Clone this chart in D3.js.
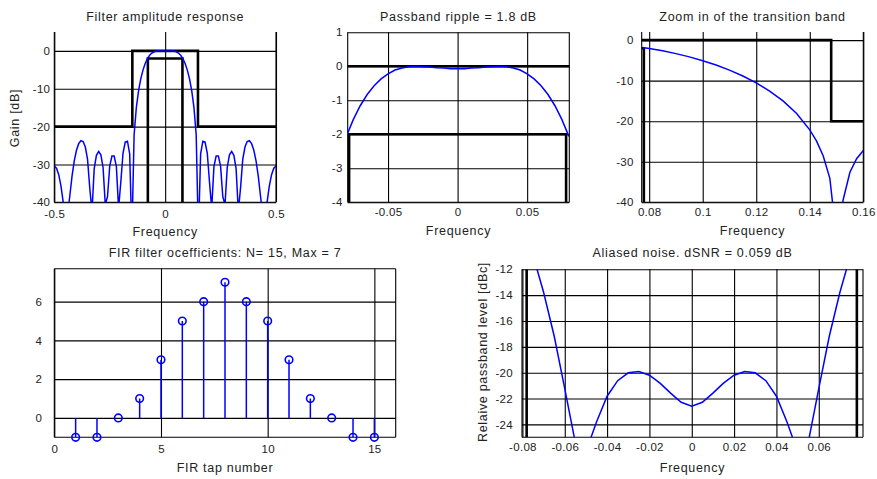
<!DOCTYPE html>
<html>
<head>
<meta charset="utf-8">
<script src="https://cdn.jsdelivr.net/npm/d3@7"></script>
<style>
    body { margin: 0; background: #ffffff; }
    text { font-family: "Liberation Sans", Arial, sans-serif; fill: #222; }
</style>
</head>
<body>
<div id="chart"></div>
<script>
// Datos

// FIR taps (stem plot)
const FIR_TAPS = [1, 2, 3, 4, 5, 6, 7, 8, 9, 10, 11, 12, 13, 14, 15];
const FIR_COEFS = [-1, -1, 0, 1, 3, 5, 6, 7, 6, 5, 3, 1, 0, -1, -1];

// amplitude response, full band
const RESP_FREQ = [-0.5, -0.49, -0.48, -0.47, -0.46, -0.45, -0.44, -0.43, -0.42, -0.41,
    -0.4, -0.39, -0.38, -0.37, -0.36, -0.35, -0.34, -0.33, -0.32, -0.31,
    -0.3, -0.29, -0.28, -0.27, -0.26, -0.25, -0.24, -0.23, -0.22, -0.21,
    -0.2, -0.19, -0.18, -0.17, -0.16, -0.15, -0.14, -0.13, -0.12, -0.11,
    -0.1, -0.09, -0.08, -0.07, -0.06, -0.05, -0.04, -0.03, -0.02, -0.01,
    0, 0.01, 0.02, 0.03, 0.04, 0.05, 0.06, 0.07, 0.08, 0.09,
    0.1, 0.11, 0.12, 0.13, 0.14, 0.15, 0.16, 0.17, 0.18, 0.19,
    0.2, 0.21, 0.22, 0.23, 0.24, 0.25, 0.26, 0.27, 0.28, 0.29,
    0.3, 0.31, 0.32, 0.33, 0.34, 0.35, 0.36, 0.37, 0.38, 0.39,
    0.4, 0.41, 0.42, 0.43, 0.44, 0.45, 0.46, 0.47, 0.48, 0.49, 0.5];
const RESP_GAIN = [-30.44, -31.0, -32.69, -35.68, -39.89, -44.0, -43.4, -38.27, -33.09, -29.07,
    -26.26, -24.5, -23.72, -23.95, -25.4, -28.65, -36.27, -42.4, -31.11, -27.57,
    -26.57, -27.47, -30.8, -40.59, -38.53, -30.44, -27.78, -27.76, -30.59, -41.6,
    -34.62, -26.99, -24.09, -23.85, -27.21, -48.9, -22.14, -15.0, -10.55, -7.4,
    -5.07, -3.33, -2.06, -1.16, -0.57, -0.22, -0.05, 0.0, -0.02, -0.05,
    -0.07, -0.05, -0.02, 0.0, -0.05, -0.22, -0.57, -1.16, -2.06, -3.33,
    -5.07, -7.4, -10.55, -15.0, -22.14, -48.9, -27.21, -23.85, -24.09, -26.99,
    -34.62, -41.6, -30.59, -27.76, -27.78, -30.44, -38.53, -40.59, -30.8, -27.47,
    -26.57, -27.57, -31.11, -42.4, -36.27, -28.65, -25.4, -23.95, -23.72, -24.5,
    -26.26, -29.07, -33.09, -38.27, -43.4, -44.0, -39.89, -35.68, -32.69, -31.0, -30.44];

// passband zoom
const PASS_FREQ = [-0.08, -0.075, -0.07, -0.065, -0.06, -0.055, -0.05, -0.045, -0.04,
    -0.035, -0.03, -0.025, -0.02, -0.015, -0.01, -0.005, 0,
    0.005, 0.01, 0.015, 0.02, 0.025, 0.03, 0.035, 0.04,
    0.045, 0.05, 0.055, 0.06, 0.065, 0.07, 0.075, 0.08];
const PASS_GAIN = [-2.06, -1.57, -1.16, -0.83, -0.57, -0.37, -0.22, -0.11, -0.05,
    -0.01, 0.0, -0.01, -0.02, -0.04, -0.05, -0.07, -0.07,
    -0.07, -0.05, -0.04, -0.02, -0.01, 0.0, -0.01, -0.05,
    -0.11, -0.22, -0.37, -0.57, -0.83, -1.16, -1.57, -2.06];

// transition band zoom
const TRANS_FREQ = [0.0775, 0.08, 0.085, 0.09, 0.095, 0.1, 0.105, 0.11, 0.115, 0.12, 0.125,
    0.13, 0.135, 0.14, 0.1425, 0.145, 0.1475, 0.15, 0.1525, 0.155, 0.1575, 0.16];
const TRANS_GAIN = [-1.8, -2.06, -2.64, -3.33, -4.13, -5.07, -6.15, -7.4, -8.85, -10.55, -12.57,
    -15.0, -18.05, -22.14, -24.87, -28.52, -34.1, -48.9, -39.3, -32.59, -29.26, -27.21];

// aliased noise
const ALIAS_FREQ = [-0.08, -0.075, -0.07, -0.065, -0.06, -0.055, -0.05, -0.045, -0.04,
    -0.035, -0.03, -0.025, -0.02, -0.015, -0.01, -0.005, 0,
    0.005, 0.01, 0.015, 0.02, 0.025, 0.03, 0.035, 0.04,
    0.045, 0.05, 0.055, 0.06, 0.065, 0.07, 0.075, 0.08];
const ALIAS_LEVEL = [-8.39, -10.91, -13.78, -17.16, -21.24, -25.42, -26.12, -23.81, -21.82,
    -20.62, -20.01, -19.91, -20.2, -20.81, -21.58, -22.29, -22.59,
    -22.29, -21.58, -20.81, -20.2, -19.91, -20.01, -20.62, -21.82,
    -23.81, -26.12, -25.42, -21.24, -17.16, -13.78, -10.91, -8.39];

// mascara de especificacion
const MASK_OUTER_FREQ = [-0.5, -0.148, -0.148, 0.148, 0.148, 0.5];
const MASK_OUTER_GAIN = [-20, -20, 0, 0, -20, -20];
const MASK_INNER_FREQ = [-0.078, -0.078, 0.078, 0.078];
const MASK_INNER_GAIN = [-40, -2, -2, -40];
const ALIAS_EDGES = [-0.078, 0.078];

// ticks
const TICKS_RESP_X = [-0.5, 0, 0.5];
const TICKS_RESP_Y = [0, -10, -20, -30, -40];
const TICKS_PASS_X = [-0.05, 0, 0.05];
const TICKS_PASS_Y = [1, 0, -1, -2, -3, -4];
const TICKS_TRANS_X = [0.08, 0.1, 0.12, 0.14, 0.16];
const TICKS_TRANS_Y = [0, -10, -20, -30, -40];
const TICKS_FIR_X = [0, 5, 10, 15];
const TICKS_FIR_Y = [0, 2, 4, 6];
const TICKS_ALIAS_X = [-0.08, -0.06, -0.04, -0.02, 0, 0.02, 0.04, 0.06];
const TICKS_ALIAS_Y = [-12, -14, -16, -18, -20, -22, -24];

const width = 877;
const height = 479;
const BLUE = "#0000ff";

const svg = d3.select("#chart")
    .append("svg")
    .attr("width", width)
    .attr("height", height);

svg.append("rect").attr("width", width).attr("height", height).attr("fill", "#fff");

// arma un panel con grilla y ejes, devuelve escalas y grupo recortado
function makePanel(cfg) {
    const x = d3.scaleLinear().domain(cfg.xDomain).range([cfg.left, cfg.right]);
    const y = d3.scaleLinear().domain(cfg.yDomain).range([cfg.bottom, cfg.top]);
    const h = cfg.bottom - cfg.top;
    const w = cfg.right - cfg.left;

    const ejeX = svg.append("g")
        .attr("transform", `translate(0,${cfg.bottom})`)
        .call(d3.axisBottom(x)
            .tickValues(cfg.xTicks)
            .tickFormat(d => String(d))
            .tickSizeInner(-h)
            .tickSizeOuter(0)
            .tickPadding(cfg.xPad));
    ejeX.select(".domain").remove();

    const ejeY = svg.append("g")
        .attr("transform", `translate(${cfg.left},0)`)
        .call(d3.axisLeft(y)
            .tickValues(cfg.yTicks)
            .tickFormat(d => String(d))
            .tickSizeInner(-w)
            .tickSizeOuter(0)
            .tickPadding(cfg.yPad));
    ejeY.select(".domain").remove();

    svg.selectAll(".tick line").attr("stroke", "#000").attr("stroke-width", 1.1);
    svg.selectAll(".tick text")
        .style("font-family", '"Liberation Sans", Arial, sans-serif')
        .style("font-size", "11.5px")
        .style("letter-spacing", "0.3px")
        .attr("fill", "#222");

    // bordes
    const borde = svg.append("g").attr("stroke", "#000").attr("stroke-width", 1.1);
    borde.append("line").attr("x1", cfg.left).attr("x2", cfg.left).attr("y1", cfg.top).attr("y2", cfg.bottom);
    borde.append("line").attr("x1", cfg.right).attr("x2", cfg.right).attr("y1", cfg.top).attr("y2", cfg.bottom);
    borde.append("line").attr("x1", cfg.left).attr("x2", cfg.right).attr("y1", cfg.bottom).attr("y2", cfg.bottom);
    if (cfg.boxTop) {
        borde.append("line").attr("x1", cfg.left).attr("x2", cfg.right).attr("y1", cfg.top).attr("y2", cfg.top);
    }

    const clipId = "clip-" + cfg.id;
    svg.append("clipPath").attr("id", clipId)
        .append("rect")
        .attr("x", cfg.left).attr("y", cfg.top)
        .attr("width", w).attr("height", h);
    const plot = svg.append("g").attr("clip-path", `url(#${clipId})`);

    // titulo y etiquetas
    svg.append("text")
        .attr("x", (cfg.left + cfg.right) / 2 + (cfg.titleDx || 0))
        .attr("y", cfg.titleY)
        .attr("text-anchor", "middle")
        .style("font-size", "12.5px")
        .style("letter-spacing", "0.7px")
        .text(cfg.title);

    svg.append("text")
        .attr("x", (cfg.left + cfg.right) / 2 + (cfg.xLabelDx || 0))
        .attr("y", cfg.xLabelY)
        .attr("text-anchor", "middle")
        .style("font-size", "12.5px")
        .style("letter-spacing", "0.7px")
        .text(cfg.xLabel);

    if (cfg.yLabel) {
        svg.append("text")
            .attr("transform", `translate(${cfg.yLabelX},${cfg.yLabelCy}) rotate(-90)`)
            .attr("text-anchor", "middle")
            .style("font-size", "12.5px")
            .style("letter-spacing", "0.7px")
            .text(cfg.yLabel);
    }

    return { x, y, plot };
}

const lineaXY = (x, y) => d3.line().x(d => x(d[0])).y(d => y(d[1]));

function drawMask(p) {
    const linea = lineaXY(p.x, p.y);
    p.plot.append("path")
        .attr("d", linea(d3.zip(MASK_OUTER_FREQ, MASK_OUTER_GAIN)))
        .attr("fill", "none").attr("stroke", "#000").attr("stroke-width", 2.6);
    p.plot.append("path")
        .attr("d", linea(d3.zip(MASK_INNER_FREQ, MASK_INNER_GAIN)))
        .attr("fill", "none").attr("stroke", "#000").attr("stroke-width", 2.6);
}

function drawCurve(p, xs, ys) {
    p.plot.append("path")
        .attr("d", lineaXY(p.x, p.y)(d3.zip(xs, ys)))
        .attr("fill", "none")
        .attr("stroke", BLUE)
        .attr("stroke-width", 1.5);
}

// Panel 1: respuesta completa
const p1 = makePanel({
    id: "resp", left: 54.3, right: 276, top: 32, bottom: 202.3,
    xDomain: [-0.5, 0.5], yDomain: [-40, 5],
    xTicks: TICKS_RESP_X, yTicks: TICKS_RESP_Y, xPad: 8, yPad: 4,
    title: "Filter amplitude response", titleY: 20.5,
    xLabel: "Frequency", xLabelY: 236,
    yLabel: "Gain [dB]", yLabelX: 19, yLabelCy: 118
});
drawMask(p1);
drawCurve(p1, RESP_FREQ, RESP_GAIN);

// Panel 2: ripple en banda de paso
const p2 = makePanel({
    id: "pass", left: 347.7, right: 569.3, top: 32.3, bottom: 202.3,
    xDomain: [-0.079, 0.0803], yDomain: [-4, 1],
    xTicks: TICKS_PASS_X, yTicks: TICKS_PASS_Y, xPad: 6, yPad: 5,
    title: "Passband ripple = 1.8 dB", titleY: 20.5,
    xLabel: "Frequency", xLabelY: 235
});
drawMask(p2);
drawCurve(p2, PASS_FREQ, PASS_GAIN);

// Panel 3: banda de transicion
const p3 = makePanel({
    id: "trans", left: 641.7, right: 863.3, top: 32, bottom: 202.3,
    xDomain: [0.0772, 0.16], yDomain: [-40, 2],
    xTicks: TICKS_TRANS_X, yTicks: TICKS_TRANS_Y, xPad: 6, yPad: 8,
    title: "Zoom in of the transition band", titleY: 20.5,
    xLabel: "Frequency", xLabelY: 235
});
drawMask(p3);
drawCurve(p3, TRANS_FREQ, TRANS_GAIN);

// Panel 4: coeficientes (stem)
const p4 = makePanel({
    id: "fir", left: 54.3, right: 395.7, top: 268.7, bottom: 437.3,
    xDomain: [0, 16], yDomain: [-1, 7.7],
    xTicks: TICKS_FIR_X, yTicks: TICKS_FIR_Y, xPad: 8, yPad: 12, boxTop: true,
    title: "FIR filter ocefficients: N= 15, Max = 7", titleY: 256.5,
    xLabel: "FIR tap number", xLabelY: 472
});
const stems = d3.zip(FIR_TAPS, FIR_COEFS);
p4.plot.selectAll("line.stem")
    .data(stems)
    .join("line")
    .attr("class", "stem")
    .attr("x1", d => p4.x(d[0])).attr("x2", d => p4.x(d[0]))
    .attr("y1", p4.y(0)).attr("y2", d => p4.y(d[1]))
    .attr("stroke", BLUE).attr("stroke-width", 1.5);
svg.append("g").selectAll("circle")
    .data(stems)
    .join("circle")
    .attr("cx", d => p4.x(d[0]))
    .attr("cy", d => p4.y(d[1]))
    .attr("r", 3.8)
    .attr("fill", "none")
    .attr("stroke", BLUE)
    .attr("stroke-width", 1.6);

// Panel 5: ruido aliasado
const p5 = makePanel({
    id: "alias", left: 522, right: 863, top: 269.3, bottom: 437.3,
    xDomain: [-0.0802, 0.0809], yDomain: [-25, -12],
    xTicks: TICKS_ALIAS_X, yTicks: TICKS_ALIAS_Y, xPad: 6, yPad: 9,
    title: "Aliased noise. dSNR = 0.059 dB", titleY: 256.5,
    xLabel: "Frequency", xLabelY: 472,
    yLabel: "Relaive passband level [dBc]", yLabelX: 487, yLabelCy: 352
});
p5.plot.selectAll("line.edge")
    .data(ALIAS_EDGES)
    .join("line")
    .attr("class", "edge")
    .attr("x1", d => p5.x(d)).attr("x2", d => p5.x(d))
    .attr("y1", p5.y(-25)).attr("y2", p5.y(-12))
    .attr("stroke", "#000").attr("stroke-width", 2.6);
drawCurve(p5, ALIAS_FREQ, ALIAS_LEVEL);
</script>
</body>
</html>
